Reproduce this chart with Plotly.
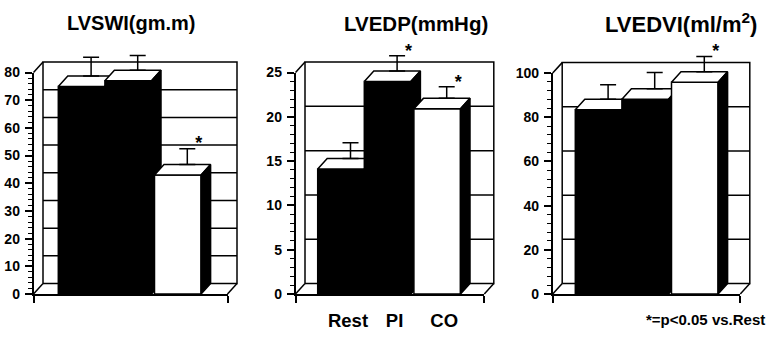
import plotly.graph_objects as go

# ---------------- data ----------------
categories = ["Rest", "PI", "CO"]
panel_titles = ["LVSWI(gm.m)", "LVEDP(mmHg)", "LVEDVI(ml/m<sup>2</sup>)"]

lvswi_mean = [75.0, 77.0, 43.0]
lvswi_sem = [6.7, 5.4, 5.7]
lvswi_sig = [False, False, True]

lvedp_mean = [14.1, 24.0, 20.9]
lvedp_sem = [1.8, 1.7, 1.3]
lvedp_sig = [False, True, True]

lvedvi_mean = [83.4, 88.2, 95.9]
lvedvi_sem = [6.6, 7.3, 6.9]
lvedvi_sig = [False, False, True]

y_max = [80, 25, 100]
y_major_step = [10, 5, 20]
y_minor_step = [2, 1, 4]

footnote_text = "*=p<0.05 vs.Rest"

# ---------------- layout / style (pixels) ----------------
W, H = 768, 343
BW = 46.6          # bar width in px
DX, DY = 9.5, 11.0 # 3-D depth offset in px
GAP_PX = 3.0       # gap before the white (CO) bar
Y0 = 300.0         # pixel row of value 0
STAR_DX = 8.0      # extra px shift of the significance star to the right
STAR_DY = 4.0      # extra px shift of the significance star upwards
LW = 1.5
FONT = "Liberation Sans, Arial, Helvetica, sans-serif"

panels_px = [
    dict(axis_x=33.5, right_x=227.5, first_left=58.3, ytop=67.7, title_x=131, title_size=20),
    dict(axis_x=295.5, right_x=484.3, first_left=317.7, ytop=67.7, title_x=416, title_size=20.5),
    dict(axis_x=552.7, right_x=740.3, first_left=575.3, ytop=68.3, title_x=681, title_size=22),
]
series = [
    (lvswi_mean, lvswi_sem, lvswi_sig),
    (lvedp_mean, lvedp_sem, lvedp_sig),
    (lvedvi_mean, lvedvi_sem, lvedvi_sig),
]
front_fill = ["black", "black", "white"]


def sfx(n):
    return "" if n == 1 else str(n)


fig = go.Figure()
layout = dict(
    width=W, height=H, margin=dict(l=0, r=0, t=0, b=0),
    paper_bgcolor="white", plot_bgcolor="rgba(0,0,0,0)",
    showlegend=False, annotations=[],
)

for p, (geo, (means, sems, sigs)) in enumerate(zip(panels_px, series)):
    k = p + 1      # main (3-D drawing) subplot
    f = p + 4      # front frame subplot with the visible axes
    ymax = y_max[p]
    ppu = (Y0 - geo["ytop"]) / ymax

    def xu(px, g=geo):
        return (px - g["first_left"]) / BW - 0.5

    def yu(py, s=ppu):
        return (Y0 - py) / s

    dxu = DX / BW
    dyu = DY / ppu
    xa, xb = xu(geo["axis_x"]), xu(geo["right_x"])
    xr = dict(xaxis="x" + sfx(k), yaxis="y" + sfx(k))

    # back wall
    fig.add_trace(go.Scatter(
        x=[xa + dxu, xb + dxu, xb + dxu, xa + dxu, xa + dxu],
        y=[dyu, dyu, ymax + dyu, ymax + dyu, dyu],
        mode="lines", fill="toself", fillcolor="white",
        line=dict(color="black", width=LW), hoverinfo="skip", **xr))
    # grid lines on back wall
    gx, gy = [], []
    v = y_major_step[p]
    while v < ymax - 1e-9:
        gx += [xa + dxu, xb + dxu, None]
        gy += [v + dyu, v + dyu, None]
        v += y_major_step[p]
    fig.add_trace(go.Scatter(x=gx, y=gy, mode="lines",
                             line=dict(color="black", width=LW), hoverinfo="skip", **xr))
    # side wall / floor edges
    fig.add_trace(go.Scatter(
        x=[xa, xa + dxu, None, xa, xa + dxu, None, xb, xb + dxu],
        y=[0, dyu, None, ymax, ymax + dyu, None, 0, dyu],
        mode="lines", line=dict(color="black", width=LW), hoverinfo="skip", **xr))

    # bars
    gap_u = GAP_PX / BW
    centers = [i + (gap_u if i == 2 else 0.0) for i in range(len(categories))]
    for i, (c, m) in enumerate(zip(centers, means)):
        l, r = c - 0.5, c + 0.5
        fig.add_trace(go.Scatter(
            x=[l, r, r, l, l], y=[0, 0, m, m, 0], mode="lines", fill="toself",
            fillcolor=front_fill[i], line=dict(color="black", width=LW),
            hoverinfo="skip", name=categories[i], **xr))
        fig.add_trace(go.Scatter(
            x=[l, r, r + dxu, l + dxu, l], y=[m, m, m + dyu, m + dyu, m],
            mode="lines", fill="toself", fillcolor="white",
            line=dict(color="black", width=LW), hoverinfo="skip", **xr))
        fig.add_trace(go.Scatter(
            x=[r, r + dxu, r + dxu, r, r], y=[0, dyu, m + dyu, m, 0],
            mode="lines", fill="toself", fillcolor="black",
            line=dict(color="black", width=LW), hoverinfo="skip", **xr))

    # error bars (upper only, from the back edge of the bar top)
    fig.add_trace(go.Scatter(
        x=[c + dxu for c in centers], y=[m + dyu for m in means],
        mode="markers", marker=dict(size=1, opacity=0),
        error_y=dict(type="data", symmetric=False, array=sems,
                     arrayminus=[0] * len(sems), color="black",
                     thickness=LW, width=8),
        hoverinfo="skip", **xr))
    # significance stars
    sdx = STAR_DX / BW
    sdy = STAR_DY / ppu
    sx = [c + dxu + sdx for c, s in zip(centers, sigs) if s]
    sy = [m + e + dyu + sdy for m, e, s in zip(means, sems, sigs) if s]
    fig.add_trace(go.Scatter(
        x=sx, y=sy, mode="text", text=["*"] * len(sx),
        textposition="middle right",
        textfont=dict(family=FONT, size=18, color="black", weight="bold"),
        hoverinfo="skip", **xr))

    # invisible point to instantiate the frame subplot
    fig.add_trace(go.Scatter(x=[xa], y=[0], mode="markers",
                             marker=dict(size=1, opacity=0), hoverinfo="skip",
                             xaxis="x" + sfx(f), yaxis="y" + sfx(f)))

    # main subplot axes (hidden)
    left_px = geo["axis_x"] - 8
    right_px = geo["right_x"] + DX + 10
    top_px, bot_px = 22, Y0 + 4
    layout["xaxis" + sfx(k)] = dict(
        domain=[left_px / W, right_px / W], range=[xu(left_px), xu(right_px)],
        visible=False, anchor="y" + sfx(k), fixedrange=True)
    layout["yaxis" + sfx(k)] = dict(
        domain=[1 - bot_px / H, 1 - top_px / H], range=[yu(bot_px), yu(top_px)],
        visible=False, anchor="x" + sfx(k), fixedrange=True)

    # frame axes
    majors = list(range(0, ymax + 1, y_major_step[p]))
    minors = [t for t in range(0, ymax + 1, y_minor_step[p]) if t % y_major_step[p] != 0]
    eps = 1e-6
    xaxis_f = dict(
        domain=[geo["axis_x"] / W, geo["right_x"] / W], range=[xa, xb],
        anchor="y" + sfx(f), showline=True, linecolor="black", linewidth=LW,
        showgrid=False, zeroline=False, ticks="",
        minor=dict(tickmode="array", tickvals=[xa + eps, xb - eps], ticks="outside",
                   ticklen=7, tickwidth=LW, tickcolor="black", showgrid=False),
        fixedrange=True)
    if p == 1:
        xaxis_f.update(tickmode="array", tickvals=[c + 0.15 for c in centers],
                       ticktext=categories, showticklabels=True, ticklabelstandoff=9,
                       tickfont=dict(family=FONT, size=18.5, color="black", weight="bold"))
    else:
        xaxis_f.update(showticklabels=False)
    layout["xaxis" + sfx(f)] = xaxis_f
    layout["yaxis" + sfx(f)] = dict(
        domain=[1 - Y0 / H, 1 - geo["ytop"] / H], range=[0, ymax],
        anchor="x" + sfx(f), showline=True, linecolor="black", linewidth=LW,
        showgrid=False, zeroline=False, ticks="outside", ticklen=7,
        tickwidth=LW, tickcolor="black", tickmode="array", tickvals=majors,
        ticklabelstandoff=2,
        tickfont=dict(family=FONT, size=14, color="black", weight="bold"),
        minor=dict(tickmode="array", tickvals=minors, ticks="outside",
                   ticklen=3.5, tickwidth=1.1, tickcolor="black", showgrid=False),
        fixedrange=True)

    layout["annotations"].append(dict(
        text=panel_titles[p], xref="paper", yref="paper",
        x=geo["title_x"] / W, y=1 - 16 / H, xanchor="center", yanchor="middle",
        showarrow=False,
        font=dict(family=FONT, size=geo["title_size"], color="black", weight="bold")))

layout["annotations"].append(dict(
    text=footnote_text, xref="paper", yref="paper",
    x=767 / W, y=1 - 327 / H, xanchor="right", yanchor="middle", showarrow=False,
    font=dict(family=FONT, size=15, color="black", weight="bold")))

fig.update_layout(**layout)
fig.write_html("out.html")
